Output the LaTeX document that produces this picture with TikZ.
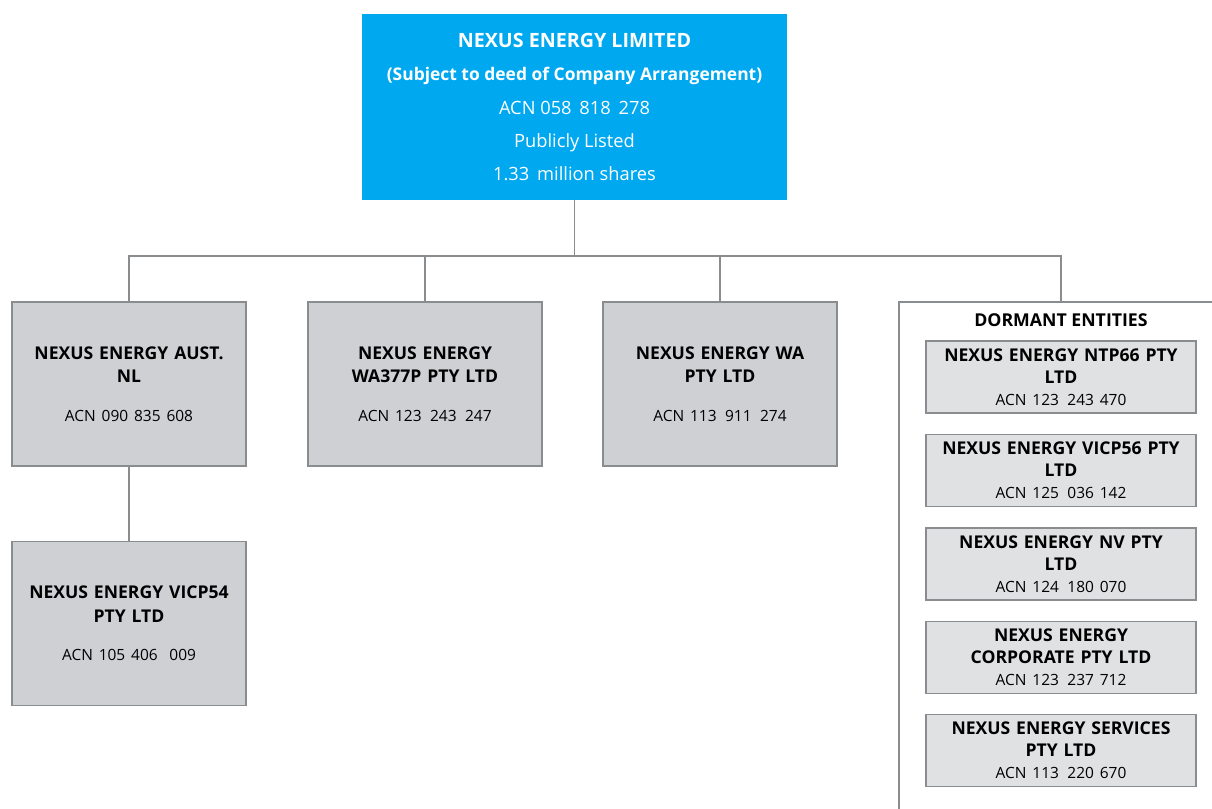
\documentclass[tikz,border=0pt]{standalone}
\usepackage{fontspec}
\setmainfont{Open Sans}
\usetikzlibrary{positioning}
\definecolor{nexusblue}{RGB}{0,168,240}
\definecolor{boxgray}{RGB}{206,208,211}
\definecolor{dormgray}{RGB}{224,225,226}
\definecolor{edgegray}{RGB}{138,141,144}
\begin{document}
\begin{tikzpicture}[x=0.025cm,y=-0.025cm,
		link/.style={draw=edgegray,line width=1.4pt},
		parent/.style={fill=nexusblue,text=white,minimum width=10.625cm,minimum height=4.625cm,align=center,inner sep=0pt,font=\fontsize{13}{23.8}\selectfont},
		entity/.style={draw=edgegray,line width=1pt,fill=boxgray,minimum width=5.85cm,minimum height=4.1cm,text width=5.6cm,align=center,inner sep=0pt,font=\fontsize{12.5}{16.5}\selectfont\bfseries},
		dormbox/.style={draw=edgegray,line width=1pt,fill=dormgray,minimum width=6.75cm,minimum height=1.8cm,text width=6.6cm,align=center,inner sep=0pt,font=\fontsize{12.5}{15.5}\selectfont\bfseries}]
		\useasboundingbox (0,0) rectangle (1212,809);

		\node (nel) [parent] at (574.5,107) {{\fontsize{14}{23.8}\selectfont\bfseries NEXUS ENERGY LIMITED}\\
			{\fontsize{12.4}{23.8}\selectfont\bfseries (Subject to deed of Company Arrangement)}\\
			ACN 058\ \,818\ \,278\\
			Publicly Listed\\
			1.33\ \,million shares};

		\node (aust) [entity] at (129,384) {NEXUS ENERGY AUST.\\ NL\\[11pt] {\fontsize{11}{14}\selectfont\mdseries ACN 090 835 608}};
		\node (wa377) [entity] at (425,384) {NEXUS ENERGY\\ WA377P PTY LTD\\[11pt] {\fontsize{11}{14}\selectfont\mdseries ACN 123\ \,243\ \,247}};
		\node (wa) [entity] at (720,384) {NEXUS ENERGY WA\\ PTY LTD\\[11pt] {\fontsize{11}{14}\selectfont\mdseries ACN 113\ \,911\ \,274}};
		\node (vicp54) [entity] at (129,623.5) {NEXUS ENERGY VICP54\\ PTY LTD\\[11pt] {\fontsize{11}{14}\selectfont\mdseries ACN 105 406\ \ 009}};

		% dormant entities group
		\coordinate (dorm) at (1061,302);
		\draw [edgegray,line width=1pt] (1212,302) -| (899,809);
		\node (dormtitle) [font=\fontsize{12.6}{14}\selectfont\bfseries] at (1061,320) {DORMANT ENTITIES};
		\node (ntp66) [dormbox] at (1061,377) {NEXUS ENERGY NTP66 PTY\\ LTD\\ {\fontsize{11}{14}\selectfont\mdseries ACN 123\ \,243 470}};
		\node (vicp56) [dormbox] at (1061,470.5) {NEXUS ENERGY VICP56 PTY\\ LTD\\ {\fontsize{11}{14}\selectfont\mdseries ACN 125\ \,036 142}};
		\node (nv) [dormbox] at (1061,564) {NEXUS ENERGY NV PTY\\ LTD\\ {\fontsize{11}{14}\selectfont\mdseries ACN 124\ \,180 070}};
		\node (corp) [dormbox] at (1061,657.5) {NEXUS ENERGY\\ CORPORATE PTY LTD\\ {\fontsize{11}{14}\selectfont\mdseries ACN 123\ \,237 712}};
		\node (serv) [dormbox] at (1061,750.5) {NEXUS ENERGY SERVICES\\ PTY LTD\\ {\fontsize{11}{14}\selectfont\mdseries ACN 113\ \,220 670}};

		\draw [link] (nel.south) -- ++(0,56) -| (aust.north);
		\draw [link] (nel.south) -- ++(0,56) -| (wa377.north);
		\draw [link] (nel.south) -- ++(0,56) -| (wa.north);
		\draw [link] (nel.south) -- ++(0,56) -| (dorm);
		\draw [link] (aust.south) -- (vicp54.north);
	\end{tikzpicture}
\end{document}
